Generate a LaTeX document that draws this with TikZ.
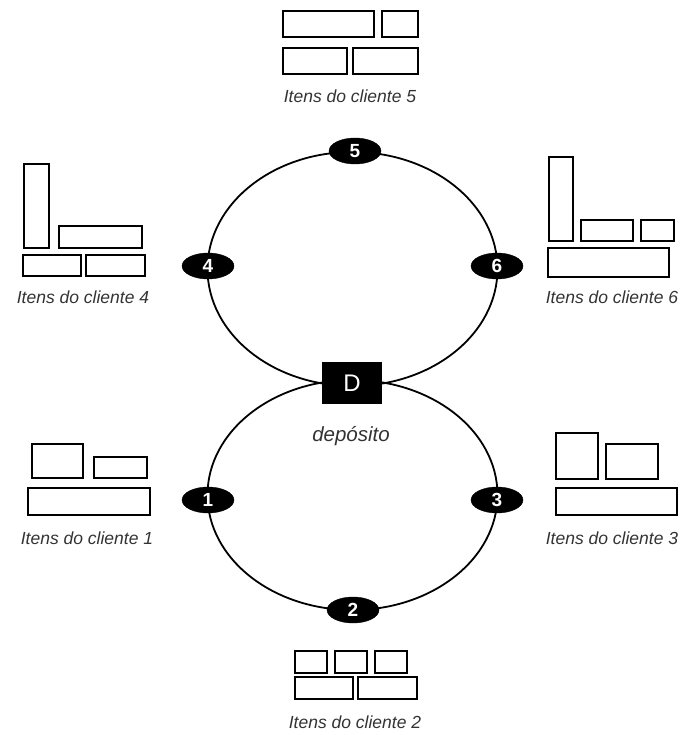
\documentclass[tikz,border=0pt]{standalone}
\usepackage{fontspec}
\setmainfont{Liberation Sans}
\usetikzlibrary{shapes.geometric}
\begin{document}
\begin{tikzpicture}[x=1pt,y=-1pt,
  itembox/.style={draw=black,line width=2.4pt},
  route/.style={draw=black,line width=1.8pt},
  stop/.style={ellipse,fill=black,draw=black,minimum width=52pt,minimum height=26pt,inner sep=0pt,text=white,font=\fontsize{19}{19}\selectfont\bfseries},
  caption/.style={text=black!80,font=\fontsize{17.5}{18}\selectfont\itshape,inner sep=0pt}]
\useasboundingbox (0,0) rectangle (684,735);
% routes
\draw[route] (352.5,269) ellipse [x radius=145pt, y radius=117pt];
\draw[route] (352.5,495) ellipse [x radius=145pt, y radius=115pt];
% depot
\node[fill=black,minimum width=60pt,minimum height=42pt,inner sep=0pt,text=white,font=\fontsize{24}{24}\selectfont] (D) at (352,383) {D};
\node[caption,font=\fontsize{20.5}{21}\selectfont\itshape] (dep) at (351,436) {depósito};
% stops
\node[stop] (s5) at (355,151) {5};
\node[stop] (s4) at (208,266) {4};
\node[stop] (s6) at (497,266) {6};
\node[stop] (s1) at (208,500) {1};
\node[stop] (s3) at (497,500) {3};
\node[stop] (s2) at (353,610) {2};
% client 5
\draw[itembox] (283,11) rectangle (374,37);
\draw[itembox] (382,11) rectangle (418,37);
\draw[itembox] (283,48) rectangle (347,74);
\draw[itembox] (353,48) rectangle (418,74);
\node[caption] (c5) at (350,96) {Itens do cliente 5};
% client 4
\draw[itembox] (24,164) rectangle (49,248);
\draw[itembox] (59,226) rectangle (142,248);
\draw[itembox] (23,255) rectangle (81,276);
\draw[itembox] (86,255) rectangle (145,276);
\node[caption] (c4) at (83,297) {Itens do cliente 4};
% client 6
\draw[itembox] (549,157) rectangle (573,241);
\draw[itembox] (581,220) rectangle (633,241);
\draw[itembox] (641,220) rectangle (674,241);
\draw[itembox] (548,248) rectangle (669,277);
\node[caption] (c6) at (612,297) {Itens do cliente 6};
% client 1
\draw[itembox] (32,444) rectangle (83,478);
\draw[itembox] (94,457) rectangle (147,478);
\draw[itembox] (28,488) rectangle (150,515);
\node[caption] (c1) at (87,538) {Itens do cliente 1};
% client 3
\draw[itembox] (556,433) rectangle (598,479);
\draw[itembox] (606,444) rectangle (658,479);
\draw[itembox] (556,488) rectangle (677,515);
\node[caption] (c3) at (612,538) {Itens do cliente 3};
% client 2
\draw[itembox] (295,651) rectangle (327,673);
\draw[itembox] (335,651) rectangle (367,673);
\draw[itembox] (375,651) rectangle (407,673);
\draw[itembox] (295,677) rectangle (353,699);
\draw[itembox] (358,677) rectangle (417,699);
\node[caption] (c2) at (355,722) {Itens do cliente 2};
\end{tikzpicture}
\end{document}
